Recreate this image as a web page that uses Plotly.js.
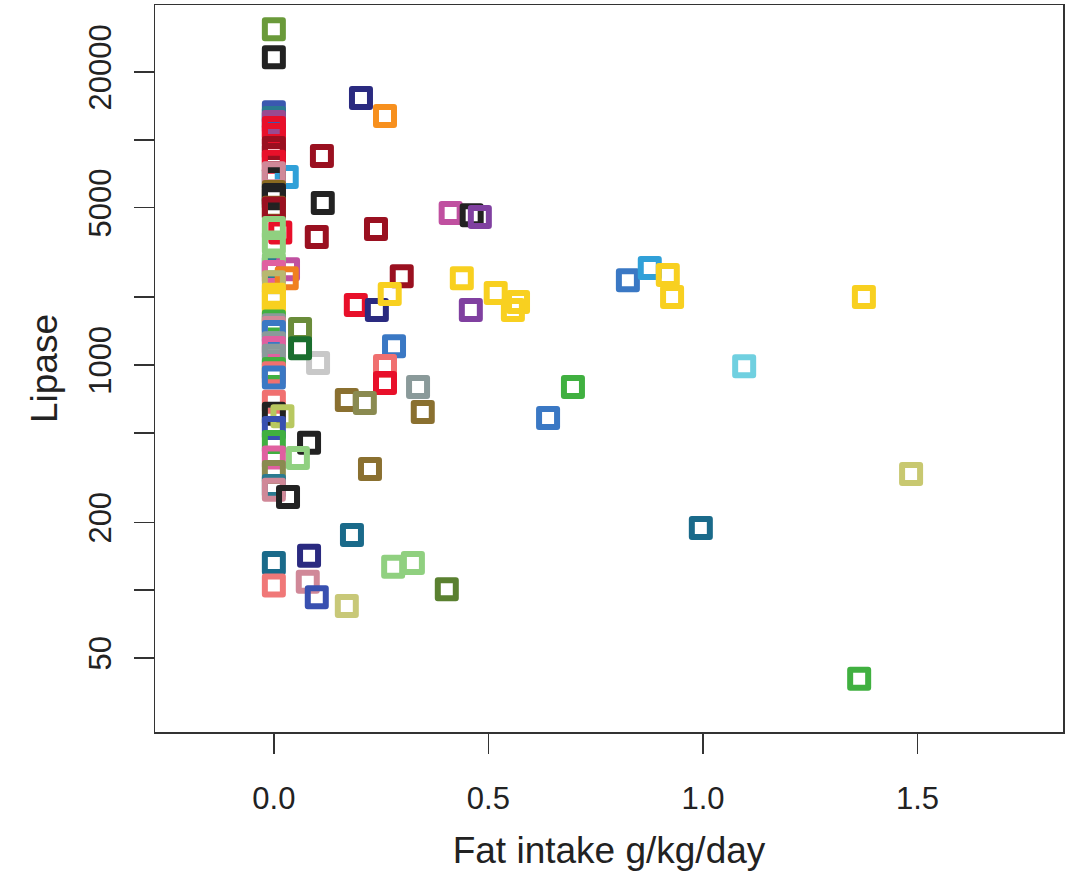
<!DOCTYPE html>
<html>
<head>
<meta charset="utf-8">
<script src="https://cdn.plot.ly/plotly-3.0.1.min.js"></script>
<style>
  html, body { margin: 0; padding: 0; background: #fff; }
  #chart { width: 1090px; height: 871px; }
  path.point { stroke-linejoin: round !important; }
</style>
</head>
<body>
<div id="chart"></div>
<script>
// Fat intake (g/kg/day) for each observation
const fatIntake = [
  0, 0, 0.203, 0.259, 0, 0, 0, 0, 0, 0,
  0, 0, 0.112, 0.03, 0, 0, 0, 0, 0, 0,
  0, 0.114, 0.238, 0.100, 0.015, 0, 0, 0, 0.033, 0,
  0, 0.03, 0, 0, 0, 0, 0, 0, 0, 0,
  0, 0, 0, 0, 0, 0, 0, 0, 0.02, 0,
  0, 0, 0, 0, 0, 0.033,
  0.298, 0.191, 0.24, 0.27, 0.28, 0.259, 0.259, 0.336, 0.103, 0.061,
  0.061, 0.17, 0.212, 0.347, 0.082, 0.056, 0.224, 0.182, 0.082, 0,
  0.278, 0.324, 0, 0.079, 0.1, 0.17, 0.403, 0.412, 0.461, 0.48,
  0.438, 0.459, 0.517, 0.569, 0.557, 0.825, 0.876, 0.918, 0.928, 1.375,
  0.697, 0.639, 1.096, 0.995, 1.485, 1.364
];
// Lipase value for each observation
const lipase = [
  31000, 23300, 15350, 12760, 13270, 12500, 12000, 11300, 10500, 9190,
  8560, 8000, 8470, 6840, 6700, 7110, 5860, 5690, 5500, 5000,
  4950, 5240, 4020, 3700, 3880, 4060, 3500, 2720, 2660, 2800,
  2590, 2430, 2330, 1945, 2050, 1700, 1560, 1500, 1460, 1400,
  1250, 1190, 1100, 960, 920, 880, 686, 607, 592, 525,
  455, 388, 335, 290, 279, 259,
  2480, 1845, 1755, 2065, 1213, 989, 832, 798, 1021, 1445,
  1188, 700, 678, 618, 451, 386, 345, 176, 142, 132,
  127, 132, 105, 109, 93, 85, 101, 4730, 4630, 4540,
  2430, 1755, 2090, 1905, 1755, 2380, 2700, 2510, 2005, 2005,
  798, 582, 988, 189, 328, 40.4
];
// Colour of each observation's marker
const pointColors = [
  '#6a9a3a', '#222222', '#2a2a80', '#f7901e', '#3a58b0', '#2a7a90', '#9a4a90', '#e8102a', '#e8102a', '#9a1020',
  '#9a1020', '#e8102a', '#9a1020', '#30a0d8', '#222222', '#d08898', '#8a6a20', '#222222', '#222222', '#8a6a20',
  '#9a1020', '#222222', '#9a1020', '#9a1020', '#e8102a', '#90d080', '#90d080', '#2a7a90', '#c050a0', '#90d080',
  '#e060a0', '#f08020', '#b8b870', '#f8d020', '#f8d020', '#f8d020', '#40b040', '#8a9a9a', '#d08898', '#3a78c4',
  '#8a9a9a', '#e060a0', '#8a9a9a', '#40b040', '#f07070', '#3a78c4', '#f07070', '#222222', '#b8c860', '#3850b0',
  '#40b040', '#e060a0', '#8a8a50', '#2a7a90', '#d08898', '#222222',
  '#9a1020', '#e8102a', '#2a2a80', '#f8d020', '#3a78c4', '#f07070', '#e8102a', '#8a9a9a', '#c8c8c8', '#6a8c3a',
  '#1a6e2e', '#8a7030', '#8a8a50', '#8a7030', '#222222', '#90d080', '#8a7030', '#1a6a8a', '#2a2a80', '#1a6a8a',
  '#90d080', '#90d080', '#f07878', '#d08898', '#3850b0', '#c8c878', '#5a8030', '#c050a0', '#222222', '#8040a0',
  '#f8d020', '#8040a0', '#f8d020', '#f8d020', '#f8d020', '#3a78c4', '#30a0d8', '#f8d020', '#f8d020', '#f8d020',
  '#40b040', '#3a78c4', '#70d0e0', '#1a6a8a', '#c8c870', '#40b040'
];
const xTickVals = [0, 0.5, 1, 1.5];
const xTickText = ['0.0', '0.5', '1.0', '1.5'];
const yTickVals = [50, 100, 200, 500, 1000, 2000, 5000, 10000, 20000];
const yTickText = ['50', '', '200', '', '1000', '', '5000', '', '20000'];

const trace = {
  type: 'scatter',
  mode: 'markers',
  x: fatIntake,
  y: lipase,
  marker: {
    symbol: 'square-open',
    size: 18,
    color: pointColors,
    line: { width: 6, color: pointColors }
  },
  hoverinfo: 'x+y',
  showlegend: false
};

const textColor = '#222222';
const fontFamily = '"Liberation Sans", Arial, Helvetica, sans-serif';

const layout = {
  width: 1090,
  height: 871,
  margin: { l: 155, r: 27, t: 5, b: 139 },
  paper_bgcolor: '#ffffff',
  plot_bgcolor: '#ffffff',
  font: { family: fontFamily, color: textColor },
  xaxis: {
    range: [-0.277, 1.839],
    tickmode: 'array',
    tickvals: xTickVals,
    ticktext: xTickText,
    ticks: 'outside',
    ticklen: 20,
    tickwidth: 1.5,
    tickcolor: '#333333',
    ticklabelstandoff: 18,
    tickfont: { size: 31, color: textColor },
    showgrid: false,
    zeroline: false,
    showline: true,
    mirror: true,
    linecolor: '#333333',
    linewidth: 1.5,
    title: { text: 'Fat intake g/kg/day', font: { size: 37, color: textColor }, standoff: 22 }
  },
  yaxis: {
    type: 'log',
    range: [1.370, 4.599],
    tickmode: 'array',
    tickvals: yTickVals,
    ticktext: yTickText,
    tickangle: -90,
    ticks: 'outside',
    ticklen: 20,
    tickwidth: 1.5,
    tickcolor: '#333333',
    ticklabelstandoff: 10,
    tickfont: { size: 31, color: textColor },
    showgrid: false,
    zeroline: false,
    showline: true,
    mirror: true,
    linecolor: '#333333',
    linewidth: 1.5,
    title: { text: 'Lipase', font: { size: 37, color: textColor }, standoff: 14 }
  }
};

Plotly.newPlot('chart', [trace], layout, { displayModeBar: false, staticPlot: true });
</script>
</body>
</html>
